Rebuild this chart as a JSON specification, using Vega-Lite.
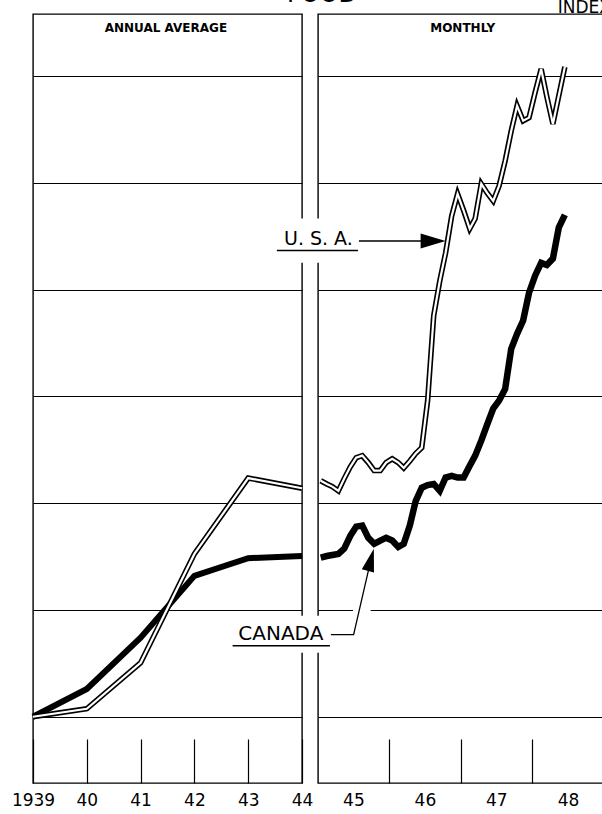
{
  "$schema": "https://vega.github.io/schema/vega-lite/v6.json",
  "background": "white",
  "padding": {"left": 10, "top": -18, "right": 0, "bottom": 0},
  "spacing": 16,
  "bounds": "flush",
  "config": {
    "view": {"stroke": "black", "strokeWidth": 1.4},
    "font": "DejaVu Sans",
    "axisY": {"grid": true, "gridColor": "black", "gridOpacity": 1, "gridWidth": 1.2, "labels": false, "ticks": false, "domain": false, "title": null},
    "axisX": {"grid": false, "domain": false, "tickColor": "black", "tickWidth": 1.2, "tickSize": -44, "labelFont": "DejaVu Sans", "labelFontSize": 17, "labelColor": "black", "labelPadding": 53, "labelFlush": false, "labelOverlap": false, "labelBound": false, "title": null}
  },
  "datasets": {
    "annual": [
      {"year": 1939, "country": "U.S.A.", "index": 100},
      {"year": 1940, "country": "U.S.A.", "index": 101.5},
      {"year": 1941, "country": "U.S.A.", "index": 110.1},
      {"year": 1942, "country": "U.S.A.", "index": 130.5},
      {"year": 1943, "country": "U.S.A.", "index": 144.7},
      {"year": 1944, "country": "U.S.A.", "index": 142.8},
      {"year": 1939, "country": "Canada", "index": 100},
      {"year": 1940, "country": "Canada", "index": 105.2},
      {"year": 1941, "country": "Canada", "index": 114.8},
      {"year": 1942, "country": "Canada", "index": 126.4},
      {"year": 1943, "country": "Canada", "index": 129.7},
      {"year": 1944, "country": "Canada", "index": 130.1}
    ],
    "usa": [
      {"date": "1945-01-15", "index": 144.2}, {"date": "1945-02-15", "index": 143.6}, {"date": "1945-03-15", "index": 143.1},
      {"date": "1945-04-15", "index": 142.3}, {"date": "1945-05-15", "index": 144.6}, {"date": "1945-06-15", "index": 146.8},
      {"date": "1945-07-15", "index": 148.5}, {"date": "1945-08-15", "index": 148.9}, {"date": "1945-09-15", "index": 147.6},
      {"date": "1945-10-15", "index": 146.1}, {"date": "1945-11-15", "index": 146.1}, {"date": "1945-12-15", "index": 147.6},
      {"date": "1946-01-15", "index": 148.3}, {"date": "1946-02-15", "index": 147.6}, {"date": "1946-03-15", "index": 146.6},
      {"date": "1946-04-15", "index": 147.9}, {"date": "1946-05-15", "index": 149.3}, {"date": "1946-06-15", "index": 150.4},
      {"date": "1946-07-15", "index": 159.2}, {"date": "1946-08-15", "index": 175.1}, {"date": "1946-09-15", "index": 181.6},
      {"date": "1946-10-15", "index": 186.9}, {"date": "1946-11-15", "index": 193.8}, {"date": "1946-12-15", "index": 197.9},
      {"date": "1947-01-15", "index": 194.8}, {"date": "1947-02-15", "index": 191.4}, {"date": "1947-03-15", "index": 193.3},
      {"date": "1947-04-15", "index": 199.8}, {"date": "1947-05-15", "index": 198.1}, {"date": "1947-06-15", "index": 196.6},
      {"date": "1947-07-15", "index": 199.4}, {"date": "1947-08-15", "index": 204.1}, {"date": "1947-09-15", "index": 209.7},
      {"date": "1947-10-15", "index": 214.4}, {"date": "1947-11-15", "index": 211.6}, {"date": "1947-12-15", "index": 212.2},
      {"date": "1948-01-15", "index": 216.9}, {"date": "1948-02-15", "index": 221.3}, {"date": "1948-03-15", "index": 216.1},
      {"date": "1948-04-15", "index": 211.0}, {"date": "1948-05-15", "index": 216.3}, {"date": "1948-06-15", "index": 221.7}
    ],
    "canada": [
      {"date": "1945-01-15", "index": 129.8}, {"date": "1945-02-15", "index": 130.1}, {"date": "1945-03-15", "index": 130.3},
      {"date": "1945-04-15", "index": 130.5}, {"date": "1945-05-15", "index": 131.5}, {"date": "1945-06-15", "index": 133.9},
      {"date": "1945-07-15", "index": 135.6}, {"date": "1945-08-15", "index": 135.8}, {"date": "1945-09-15", "index": 133.5},
      {"date": "1945-10-15", "index": 132.4}, {"date": "1945-11-15", "index": 133.0}, {"date": "1945-12-15", "index": 133.5},
      {"date": "1946-01-15", "index": 133.0}, {"date": "1946-02-15", "index": 131.8}, {"date": "1946-03-15", "index": 132.4},
      {"date": "1946-04-15", "index": 135.8}, {"date": "1946-05-15", "index": 140.4}, {"date": "1946-06-15", "index": 142.9},
      {"date": "1946-07-15", "index": 143.4}, {"date": "1946-08-15", "index": 143.6}, {"date": "1946-09-15", "index": 142.3},
      {"date": "1946-10-15", "index": 144.8}, {"date": "1946-11-15", "index": 145.1}, {"date": "1946-12-15", "index": 144.8},
      {"date": "1947-01-15", "index": 144.8}, {"date": "1947-02-15", "index": 147.0}, {"date": "1947-03-15", "index": 148.9},
      {"date": "1947-04-15", "index": 151.7}, {"date": "1947-05-15", "index": 154.7}, {"date": "1947-06-15", "index": 157.7},
      {"date": "1947-07-15", "index": 159.2}, {"date": "1947-08-15", "index": 161.4}, {"date": "1947-09-15", "index": 168.9},
      {"date": "1947-10-15", "index": 171.7}, {"date": "1947-11-15", "index": 174.2}, {"date": "1947-12-15", "index": 179.4},
      {"date": "1948-01-15", "index": 182.6}, {"date": "1948-02-15", "index": 185.0}, {"date": "1948-03-15", "index": 184.6},
      {"date": "1948-04-15", "index": 185.8}, {"date": "1948-05-15", "index": 191.6}, {"date": "1948-06-15", "index": 194.0}
    ]
  },
  "hconcat": [
    {
      "width": 269,
      "height": 769,
      "encoding": {
        "x": {"field": "year", "type": "quantitative", "scale": {"domain": [1939, 1944], "nice": false, "zero": false},
              "axis": {"values": [1939, 1940, 1941, 1942, 1943, 1944], "labelExpr": "datum.value == 1939 ? '1939' : slice(toString(datum.value), 2)"}},
        "y": {"field": "index", "type": "quantitative", "scale": {"domain": [87.6, 231.6], "nice": false, "zero": false},
              "axis": {"values": [100, 120, 140, 160, 180, 200, 220]}}
      },
      "layer": [
        {"data": {"name": "annual"}, "transform": [{"filter": "datum.country == 'Canada'"}],
         "mark": {"type": "line", "color": "black", "strokeWidth": 6}},
        {"data": {"name": "annual"}, "transform": [{"filter": "datum.country == 'U.S.A.'"}],
         "mark": {"type": "line", "color": "black", "strokeWidth": 5.5}},
        {"data": {"name": "annual"}, "transform": [{"filter": "datum.country == 'U.S.A.'"}],
         "mark": {"type": "line", "color": "white", "strokeWidth": 2.2}},
        {"data": {"values": [{"year": 1941.47, "index": 229.0, "text": "ANNUAL AVERAGE"}]},
         "mark": {"type": "text", "font": "DejaVu Sans", "fontSize": 12, "fontWeight": "bold", "color": "black", "baseline": "middle", "align": "center"},
         "encoding": {"text": {"field": "text"}}}
      ]
    },
    {
      "width": 286,
      "height": 769,
      "encoding": {
        "x": {"field": "date", "type": "temporal",
              "scale": {"type": "utc", "domain": [{"year": 1945, "month": 1, "date": 1, "utc": true}, {"year": 1949, "month": 1, "date": 1, "utc": true}], "nice": false},
              "axis": {"values": [
                  {"year": 1945, "month": 7, "date": 1, "utc": true},
                  {"year": 1946, "month": 1, "date": 1, "utc": true},
                  {"year": 1946, "month": 7, "date": 1, "utc": true},
                  {"year": 1947, "month": 1, "date": 1, "utc": true},
                  {"year": 1947, "month": 7, "date": 1, "utc": true},
                  {"year": 1948, "month": 1, "date": 1, "utc": true},
                  {"year": 1948, "month": 7, "date": 1, "utc": true}],
                "labelExpr": "utcmonth(datum.value) == 6 ? utcFormat(datum.value, '%y') : ''",
                "tickOpacity": {"condition": {"test": "utcmonth(datum.value) == 0", "value": 1}, "value": 0}}},
        "y": {"field": "index", "type": "quantitative", "scale": {"domain": [87.6, 231.6], "nice": false, "zero": false},
              "axis": {"values": [100, 120, 140, 160, 180, 200, 220]}}
      },
      "layer": [
        {"data": {"name": "canada"}, "mark": {"type": "line", "color": "black", "strokeWidth": 6.5}},
        {"data": {"name": "usa"}, "mark": {"type": "line", "color": "black", "strokeWidth": 5.5}},
        {"data": {"name": "usa"}, "mark": {"type": "line", "color": "white", "strokeWidth": 2.2}},
        {"data": {"values": [
            {"date": "1944-09-10", "date2": "1945-02-25", "index": 185.0, "index2": 193.3},
            {"date": "1944-09-10", "date2": "1945-02-25", "index": 112.0, "index2": 118.9},
            {"date": "1945-06-29", "date2": "1945-09-27", "index": 119.5, "index2": 120.5}]},
         "mark": {"type": "rect", "color": "white", "strokeWidth": 0},
         "encoding": {"x2": {"field": "date2"}, "y2": {"field": "index2"}}},
        {"data": {"values": [
            {"date": "1944-06-05", "date2": "1945-07-24", "index": 187.3},
            {"date": "1943-10-23", "date2": "1945-03-03", "index": 113.3},
            {"date": "1945-07-29", "date2": "1946-08-12", "index": 189.1}]},
         "mark": {"type": "rule", "color": "black", "strokeWidth": 1.4},
         "encoding": {"x2": {"field": "date2"}}},
        {"data": {"values": [
            {"date": "1945-03-08", "index": 115.4},
            {"date": "1945-07-02", "index": 115.4},
            {"date": "1945-09-28", "index": 129.4}]},
         "mark": {"type": "line", "color": "black", "strokeWidth": 1.3}},
        {"data": {"values": [{"date": "1946-08-12", "index": 189.1}]},
         "mark": {"type": "point", "shape": "M-1,-0.6L1,0L-1,0.6Z", "size": 625, "filled": true, "color": "black", "opacity": 1}},
        {"data": {"values": [{"date": "1945-09-28", "index": 129.4}]},
         "mark": {"type": "point", "shape": "M0,-1L0.55,1L-0.55,1Z", "size": 529, "angle": 15, "filled": true, "color": "black", "opacity": 1}},
        {"data": {"values": [{"date": "1945-01-03", "index": 188.4, "text": "U. S. A."}]},
         "mark": {"type": "text", "font": "DejaVu Sans", "fontSize": 19, "color": "black", "align": "center", "baseline": "alphabetic"},
         "encoding": {"text": {"field": "text"}}},
        {"data": {"values": [{"date": "1944-06-25", "index": 114.4, "text": "CANADA"}]},
         "mark": {"type": "text", "font": "DejaVu Sans", "fontSize": 20, "color": "black", "align": "center", "baseline": "alphabetic"},
         "encoding": {"text": {"field": "text"}}},
        {"data": {"values": [{"date": "1947-01-10", "index": 229.0, "text": "MONTHLY"}]},
         "mark": {"type": "text", "font": "DejaVu Sans", "fontSize": 12, "fontWeight": "bold", "color": "black", "align": "center", "baseline": "middle"},
         "encoding": {"text": {"field": "text"}}},
        {"data": {"values": [{"date": "1945-01-21", "index": 233.85, "text": "FOOD"}]},
         "mark": {"type": "text", "font": "DejaVu Sans", "fontSize": 24, "color": "black", "align": "center", "baseline": "alphabetic"},
         "encoding": {"text": {"field": "text"}}},
        {"data": {"values": [{"date": "1948-05-10", "index": 231.8, "text": "INDEX"}]},
         "mark": {"type": "text", "font": "DejaVu Sans", "fontSize": 17, "color": "black", "align": "left", "baseline": "alphabetic"},
         "encoding": {"text": {"field": "text"}}}
      ]
    }
  ]
}
